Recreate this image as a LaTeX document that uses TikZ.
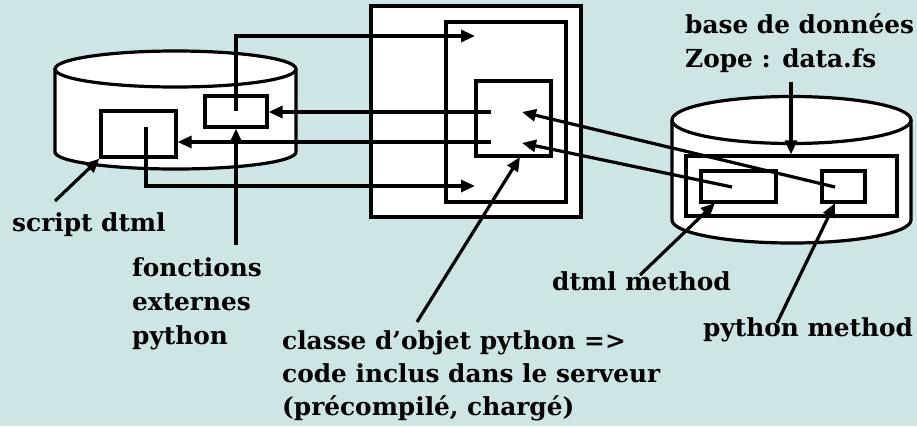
\documentclass[tikz,border=0pt]{standalone}
\usepackage{fontspec}
\setmainfont{DejaVu Serif}
\usetikzlibrary{arrows.meta}
\definecolor{bgteal}{RGB}{205,229,229}
\begin{document}
\begin{tikzpicture}[x=1pt,y=-1pt,
  lw/.style={line width=3.2pt},
  outline/.style={lw, draw=black, fill=white},
  frame/.style={outline, inner sep=0pt, minimum width=#1},
  conn/.style={lw, line cap=butt},
  arr/.style={conn, -{Triangle[length=14pt,width=12pt]}},
  lbl/.style={font=\bfseries\fontsize{24.8}{34}\selectfont, inner sep=0pt,
              anchor=base west, align=left}]
\useasboundingbox (0,0) rectangle (917,426);
\fill[bgteal] (0,0) rectangle (917,426);

% left database cylinder
\fill[white] (55,69) -- (55,152)
  arc[start angle=180,end angle=360,x radius=120.5pt,y radius=17pt]
  -- (296,69)
  arc[start angle=0,end angle=180,x radius=120.5pt,y radius=18pt] -- cycle;
\draw[lw] (55,69) -- (55,152)
  arc[start angle=180,end angle=360,x radius=120.5pt,y radius=17pt] -- (296,69);
\draw[lw] (175.5,69) ellipse[x radius=120.5pt,y radius=18pt];

% right database cylinder
\fill[white] (672,120) -- (672,220)
  arc[start angle=180,end angle=360,x radius=119.5pt,y radius=23pt]
  -- (911,120)
  arc[start angle=0,end angle=180,x radius=119.5pt,y radius=23.5pt] -- cycle;
\draw[lw] (672,120) -- (672,220)
  arc[start angle=180,end angle=360,x radius=119.5pt,y radius=23pt] -- (911,120);
\draw[lw] (791.5,120) ellipse[x radius=119.5pt,y radius=23.5pt];

% boxes
\node[frame=75pt, minimum height=46pt] (sbox) at (138.5,134) {};
\node[frame=62pt, minimum height=31pt] (fbox) at (236,111.5) {};
\node[frame=210pt, minimum height=211pt] (srvA) at (476,111.5) {};
\node[frame=120pt, minimum height=180pt] (srvB) at (506,112) {};
\node[frame=75pt, minimum height=75pt] (srvC) at (513.5,118.5) {};
\node[frame=211pt, minimum height=60pt] (rout) at (791.5,186) {};
\node[frame=75pt, minimum height=31pt] (rdtml) at (738.5,186.5) {};
\node[frame=43pt, minimum height=31pt] (rpy) at (843.5,186.5) {};

% labels (base anchor sits on the last line)
\node[lbl] (dbname) at (685,67) {base de données\\Zope : data.fs};
\node[lbl] (script) at (12,231) {script dtml};
\node[lbl] (fonc) at (132,344) {fonctions\\externes\\python};
\node[lbl] (dtml) at (552,290) {dtml method};
\node[lbl] (pym) at (703,336) {python method};
\node[lbl, font=\bfseries\fontsize{24.8}{33}\selectfont] (classe) at (282,415)
  {classe d’objet python =>\\code inclus dans le serveur\\(précompilé, chargé)};

% connector end points
\coordinate (fIn) at (236,111);
\coordinate (sIn) at (146,127);
\coordinate (srvTop) at (475,36);
\coordinate (srvBot) at (475,186);
\coordinate (cOut1) at (491,112);
\coordinate (cOut2) at (491,142);
\coordinate (cIn1) at (522,112);
\coordinate (cIn2) at (522,143);
\coordinate (pyIn) at (835,187);
\coordinate (dtIn) at (732,187);
\coordinate (fTail) at (236,245);
\coordinate (sTail) at (55,201);
\coordinate (cTail) at (417,322);
\coordinate (cTip) at (520,157);
\coordinate (dbTail) at (791,82);
\coordinate (dTail) at (640,275);
\coordinate (dTip) at (715,203);
\coordinate (pTail) at (777,323);
\coordinate (pTip) at (835,203);

% connectors
\draw[arr] (fIn) |- (srvTop);
\draw[arr] (sIn) |- (srvBot);
\draw[arr] (cOut1) -- (fbox.east |- cOut1);
\draw[arr] (cOut2) -- (sbox.east |- cOut2);
\draw[arr] (pyIn) -- (cIn1);
\draw[arr] (dtIn) -- (cIn2);
\draw[arr] (fTail) -- (fbox.south);
\draw[arr] (sTail) -- (sbox.south west);
\draw[arr] (cTail) -- (cTip);
\draw[arr] (dbTail) -- (rout.north -| dbTail);
\draw[arr] (dTail) -- (dTip);
\draw[arr] (pTail) -- (pTip);
\end{tikzpicture}
\end{document}
